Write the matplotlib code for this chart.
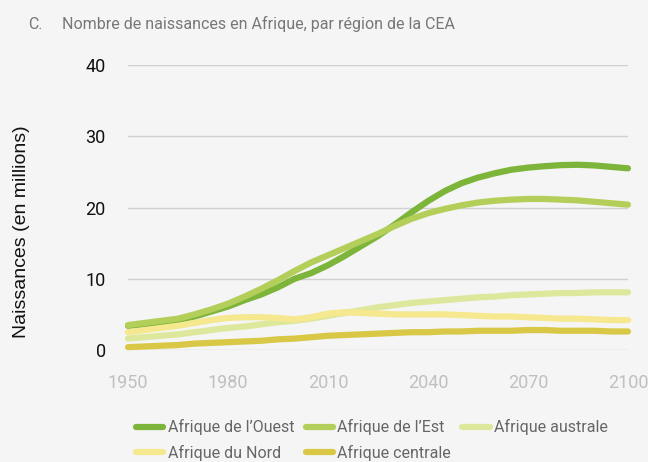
import numpy as np
import matplotlib
matplotlib.use("Agg")
import matplotlib.pyplot as plt

# births in Africa (millions), by ECA region, 5-year steps
years = list(range(1950, 2101, 5))

ouest = [3.4, 3.6, 3.9, 4.2, 4.7, 5.4, 6.1, 7.0, 7.8, 8.8, 10.0,
         10.8, 11.9, 13.2, 14.6, 16.0, 17.6, 19.3, 20.9, 22.3, 23.4,
         24.2, 24.8, 25.3, 25.6, 25.8, 25.95, 26.0, 25.9, 25.7, 25.5]
est = [3.5, 3.8, 4.1, 4.4, 5.0, 5.7, 6.5, 7.5, 8.6, 9.8, 11.1,
       12.3, 13.3, 14.3, 15.3, 16.3, 17.4, 18.4, 19.2, 19.8, 20.3,
       20.7, 20.95, 21.1, 21.2, 21.2, 21.1, 21.0, 20.8, 20.6, 20.4]
australe = [1.6, 1.8, 2.0, 2.2, 2.5, 2.8, 3.1, 3.3, 3.6, 3.9, 4.1,
            4.4, 4.8, 5.2, 5.6, 6.0, 6.3, 6.6, 6.8, 7.0, 7.2,
            7.4, 7.5, 7.7, 7.8, 7.9, 8.0, 8.0, 8.1, 8.1, 8.1]
nord = [2.5, 2.8, 3.1, 3.4, 3.8, 4.2, 4.5, 4.6, 4.6, 4.5, 4.3,
        4.6, 5.1, 5.3, 5.2, 5.1, 5.0, 5.0, 5.0, 5.0, 4.9,
        4.8, 4.7, 4.7, 4.6, 4.5, 4.4, 4.4, 4.3, 4.2, 4.2]
centrale = [0.4, 0.5, 0.6, 0.7, 0.9, 1.0, 1.1, 1.2, 1.3, 1.5, 1.6,
            1.8, 2.0, 2.1, 2.2, 2.3, 2.4, 2.5, 2.5, 2.6, 2.6,
            2.7, 2.7, 2.7, 2.8, 2.8, 2.7, 2.7, 2.7, 2.6, 2.6]

labels = ["Afrique de l\u2019Ouest", "Afrique de l\u2019Est", "Afrique australe",
          "Afrique du Nord", "Afrique centrale"]
colors = ["#7db43a", "#b3cf5a", "#dde89c", "#f6e88e", "#d8c846"]
xticks = [1950, 1980, 2010, 2040, 2070, 2100]
yticks = [0, 10, 20, 30, 40]

narrow = ["Roboto", "DejaVu Sans"]
bg = "#f5f5f5"

fig = plt.figure(figsize=(6.48, 4.62), dpi=100, facecolor=bg)
ax = fig.add_axes([0.1975, 0.2424, 0.7716, 0.6169], facecolor=bg)

series = [ouest, est, australe, nord, centrale]
lines = []
for vals, lab, col in zip(series, labels, colors):
    ln, = ax.plot(years, vals, color=col, lw=4.5, label=lab,
                  solid_capstyle="round", clip_on=False, zorder=3)
    lines.append(ln)

ax.set_xlim(1950, 2100)
ax.set_ylim(0, 40)
ax.set_xticks(xticks)
ax.set_yticks(yticks)
ax.grid(axis="y", color="#d0d0d0", lw=1)
ax.set_axisbelow(True)
for s in ax.spines.values():
    s.set_visible(False)
ax.tick_params(length=0)
ax.tick_params(axis="x", pad=17, labelcolor="#c0c0c0", labelsize=13)
ax.tick_params(axis="y", pad=16, labelcolor="#111111", labelsize=13)
for t in ax.get_xticklabels() + ax.get_yticklabels():
    t.set_family(narrow)

ax.set_ylabel("Naissances (en millions)", fontsize=14, color="#111111",
              family=["Liberation Sans", "DejaVu Sans"])
ax.yaxis.set_label_coords(-0.195, 0.414)

fig.text(0.043, 0.948, "C.", fontsize=11.5, color="#777777", family=narrow, va="center")
fig.text(0.095, 0.948, "Nombre de naissances en Afrique, par r\u00e9gion de la CEA",
         fontsize=11.5, color="#777777", family=narrow, va="center")

# row-major order for a 3 column legend
order = [0, 3, 1, 4, 2]
leg = fig.legend([lines[i] for i in order], [labels[i] for i in order],
                 ncol=3, loc="lower left", bbox_to_anchor=(0.19, -0.025),
                 frameon=False, handlelength=1.7, handletextpad=0.3,
                 columnspacing=0.7, labelspacing=0.6, borderpad=0.3,
                 prop={"family": narrow, "size": 11.5})
for t in leg.get_texts():
    t.set_color("#666666")

fig.savefig("out.png", dpi=100, facecolor=bg)
